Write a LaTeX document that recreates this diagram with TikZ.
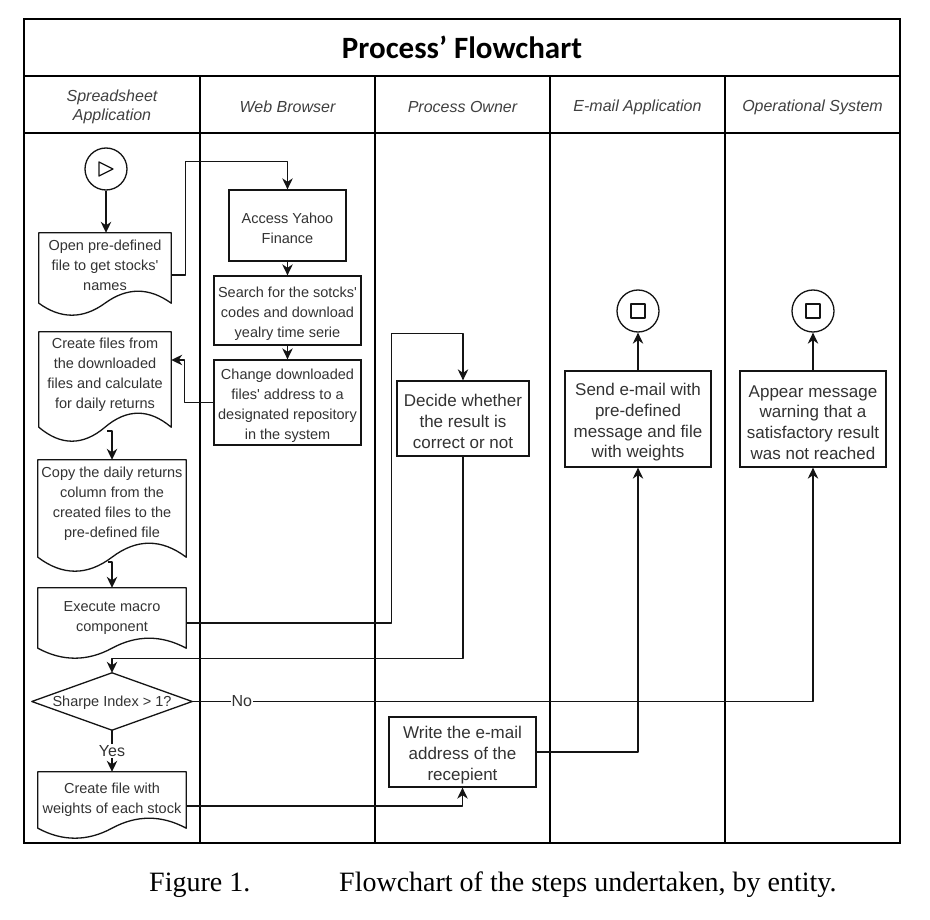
\documentclass[tikz,border=0pt]{standalone}
\usepackage{fontspec}
\setmainfont{Liberation Sans}
\newfontfamily\titlefont{Carlito}
\newfontfamily\capfont{Liberation Serif}
\usetikzlibrary{arrows.meta,calc}

\newcommand\drawdoc[3]{%
  \draw[ln] (#1.south west) -- (#1.north west) -- (#1.north east) -- (#1.south east)
    .. controls ($(#1.south east)+(-#2/6,-4*#3/3)$) and ($(#1.south)+(#2/6,-4*#3/3)$) .. (#1.south)
    .. controls ($(#1.south)+(-#2/6,4*#3/3)$) and ($(#1.south west)+(#2/6,4*#3/3)$) .. (#1.south west) -- cycle;}

\tikzset{
  ln/.style={line width=1.3pt, draw=black!92, line join=round},
  frame/.style={line width=1.5pt, draw=black},
  arr/.style={ln, -{Stealth[length=11pt,width=10.5pt,inset=3.5pt]}},
  boxs/.style={draw=black!92, line width=1.3pt, inner sep=0pt},
  shp/.style={inner sep=0pt},
  btxt/.style={inner sep=0pt, align=center, font=\fontsize{17}{20.7}\selectfont, text=black!80},
  stxt/.style={inner sep=0pt, align=center, font=\fontsize{14.5}{20}\selectfont, text=black!80},
  hdr/.style={align=center, inner sep=0pt, font=\fontsize{16}{19.3}\selectfont\itshape, text=black!75},
  lbl/.style={fill=white, inner sep=1pt, font=\fontsize{16}{19}\selectfont, text=black!80},
  endc/.style={circle, draw=black!92, line width=1.3pt, minimum size=42pt, inner sep=0pt},
}

\begin{document}
\begin{tikzpicture}[x=1pt,y=-1pt]
\useasboundingbox (0,0) rectangle (930,920);
\fill[white] (0,0) rectangle (930,920);

% frame and lanes
\draw[frame] (24,19) rectangle (900,843);
\draw[frame] (24,76) -- (900,76);
\draw[frame] (24,133) -- (900,133);
\foreach \x in {200,375,550,725} \draw[frame] (\x,76) -- (\x,843);

\node[font=\titlefont\bfseries\fontsize{31}{34}\selectfont] (title) at (462,47.5) {Process’ Flowchart};

\node[hdr] (h1) at (112,107) {Spreadsheet\\Application};
\node[hdr] (h2) at (287.5,107) {Web Browser};
\node[hdr] (h3) at (462.5,107) {Process Owner};
\node[hdr] (h4) at (637.5,107) {E-mail Application};
\node[hdr] (h5) at (812.5,107) {Operational System};

% spreadsheet lane
\node[endc] (start) at (106,169) {};
\draw[ln] ($(start)+(-7,-7)$) -- ($(start)+(7,0)$) -- ($(start)+(-7,7)$) -- cycle;

\node[shp, minimum width=132pt, minimum height=70pt] (doc1) at (105,268) {};
\drawdoc{doc1}{132}{12}
\node[stxt] (doc1t) at ([yshift=3pt]doc1.center) {Open pre-defined\\file to get stocks\textquotesingle\\names};

\node[shp, minimum width=132pt, minimum height=95pt] (doc2) at (105,379.5) {};
\drawdoc{doc2}{132}{14}
\node[stxt] (doc2t) at ([yshift=4.5pt]doc2.center) {Create files from\\the downloaded\\files and calculate\\for daily returns};

\node[shp, minimum width=148pt, minimum height=97pt] (doc3) at (112,508.5) {};
\drawdoc{doc3}{148}{14}
\node[stxt] (doc3t) at ([yshift=5pt]doc3.center) {Copy the daily returns\\column from the\\created files to the\\pre-defined file};

\node[shp, minimum width=148pt, minimum height=60pt] (doc4) at (112,618) {};
\drawdoc{doc4}{148}{10}
\node[stxt] (doc4t) at (doc4.center) {Execute macro\\component};

\node[shp, minimum width=160pt, minimum height=57pt] (dia) at (112,701.5) {};
\draw[ln] (dia.north) -- (dia.east) -- (dia.south) -- (dia.west) -- cycle;
\node[stxt] (diat) at ([yshift=-1.5pt]dia.center) {Sharpe Index > 1?};

\node[shp, minimum width=148pt, minimum height=56pt] (doc5) at (112,800) {};
\drawdoc{doc5}{148}{10}
\node[stxt] (doc5t) at (doc5.center) {Create file with\\weights of each stock};

% web browser lane
\node[boxs, minimum width=117pt, minimum height=71pt] (access) at (287.5,225.5) {};
\node[stxt] (accesst) at ([yshift=-3pt]access.center) {Access Yahoo\\Finance};
\node[boxs, minimum width=147pt, minimum height=69pt] (search) at (287.5,310.5) {};
\node[stxt] (searcht) at ([yshift=-3.5pt]search.center) {Search for the sotcks\textquotesingle\\codes and download\\yealry time serie};
\node[boxs, minimum width=147pt, minimum height=85pt] (change) at (287.5,402.5) {};
\node[stxt] (changet) at ([yshift=-3.5pt]change.center) {Change downloaded\\files\textquotesingle{} address to a\\designated repository\\in the system};

% process owner lane
\node[boxs, minimum width=132pt, minimum height=75pt] (decide) at (463,418.5) {};
\node[btxt] (decidet) at ([yshift=-3pt]decide.center) {Decide whether\\the result is\\correct or not};
\node[boxs, minimum width=147pt, minimum height=70pt] (write) at (462.5,752) {};
\node[btxt] (writet) at ([yshift=-3pt]write.center) {Write the e-mail\\address of the\\recepient};

% e-mail lane
\node[boxs, minimum width=146pt, minimum height=96pt] (send) at (638,419) {};
\node[btxt] (sendt) at ([yshift=-3.5pt]send.center) {Send e-mail with\\pre-defined\\message and file\\with weights};
\node[endc] (end1) at (638,311) {};
\draw[ln, line width=1.5pt] ($(end1)+(-7,-7)$) rectangle ($(end1)+(7,7)$);

% operational system lane
\node[boxs, minimum width=146pt, minimum height=96pt] (appear) at (813,419) {};
\node[btxt] (appeart) at ([yshift=-3.5pt]appear.center) {Appear message\\warning that a\\satisfactory result\\was not reached};
\node[endc] (end2) at (813,311) {};
\draw[ln, line width=1.5pt] ($(end2)+(-7,-7)$) rectangle ($(end2)+(7,7)$);

% connectors
\draw[arr] (start.south) -- (start.south |- doc1.north);
\draw[arr] ([yshift=-7pt]doc1.east) -- ++(14,0) |- ($(access.north)+(0,-28)$) -- (access.north);
\draw[arr] (access.south) -- (search.north);
\draw[arr] (search.south) -- (change.north);
\draw[arr] (change.west) -- ++(-29,0) |- ([yshift=19.5pt]doc2.east);
\coordinate (d2b) at (112,431);
\draw[arr] ([xshift=-5pt]d2b) -- (d2b) -- (doc3.north);
\coordinate (d3b) at (112,562);
\draw[arr] ([xshift=-4pt]d3b) -- (d3b) -- (doc4.north);
\draw[arr] ([yshift=-5pt]doc4.east) -- ++(205,0) |- ($(decide.north)+(0,-47)$) -- (decide.north);
\draw[arr] (decide.south) |- ($(dia.north)+(0,-14)$) -- (dia.north);
\draw[arr] (dia.south) -- node[lbl] {Yes} (doc5.north);
\draw[arr] (dia.east) -| node[lbl, pos=0.04] {No} (appear.south);
\draw[arr] ([yshift=-6pt]doc5.east) -| (write.south);
\draw[arr] (write.east) -| (send.south);
\draw[arr] (send.north) -- (end1.south);
\draw[arr] (appear.north) -- (end2.south);

% caption
\node[anchor=base west, inner sep=0pt, font=\capfont\fontsize{28}{30}\selectfont] (fig) at (149,891) {Figure 1.};
\node[anchor=base west, inner sep=0pt, font=\capfont\fontsize{28}{30}\selectfont] (cap) at (339,891) {Flowchart of the steps undertaken, by entity.};
\end{tikzpicture}
\end{document}
